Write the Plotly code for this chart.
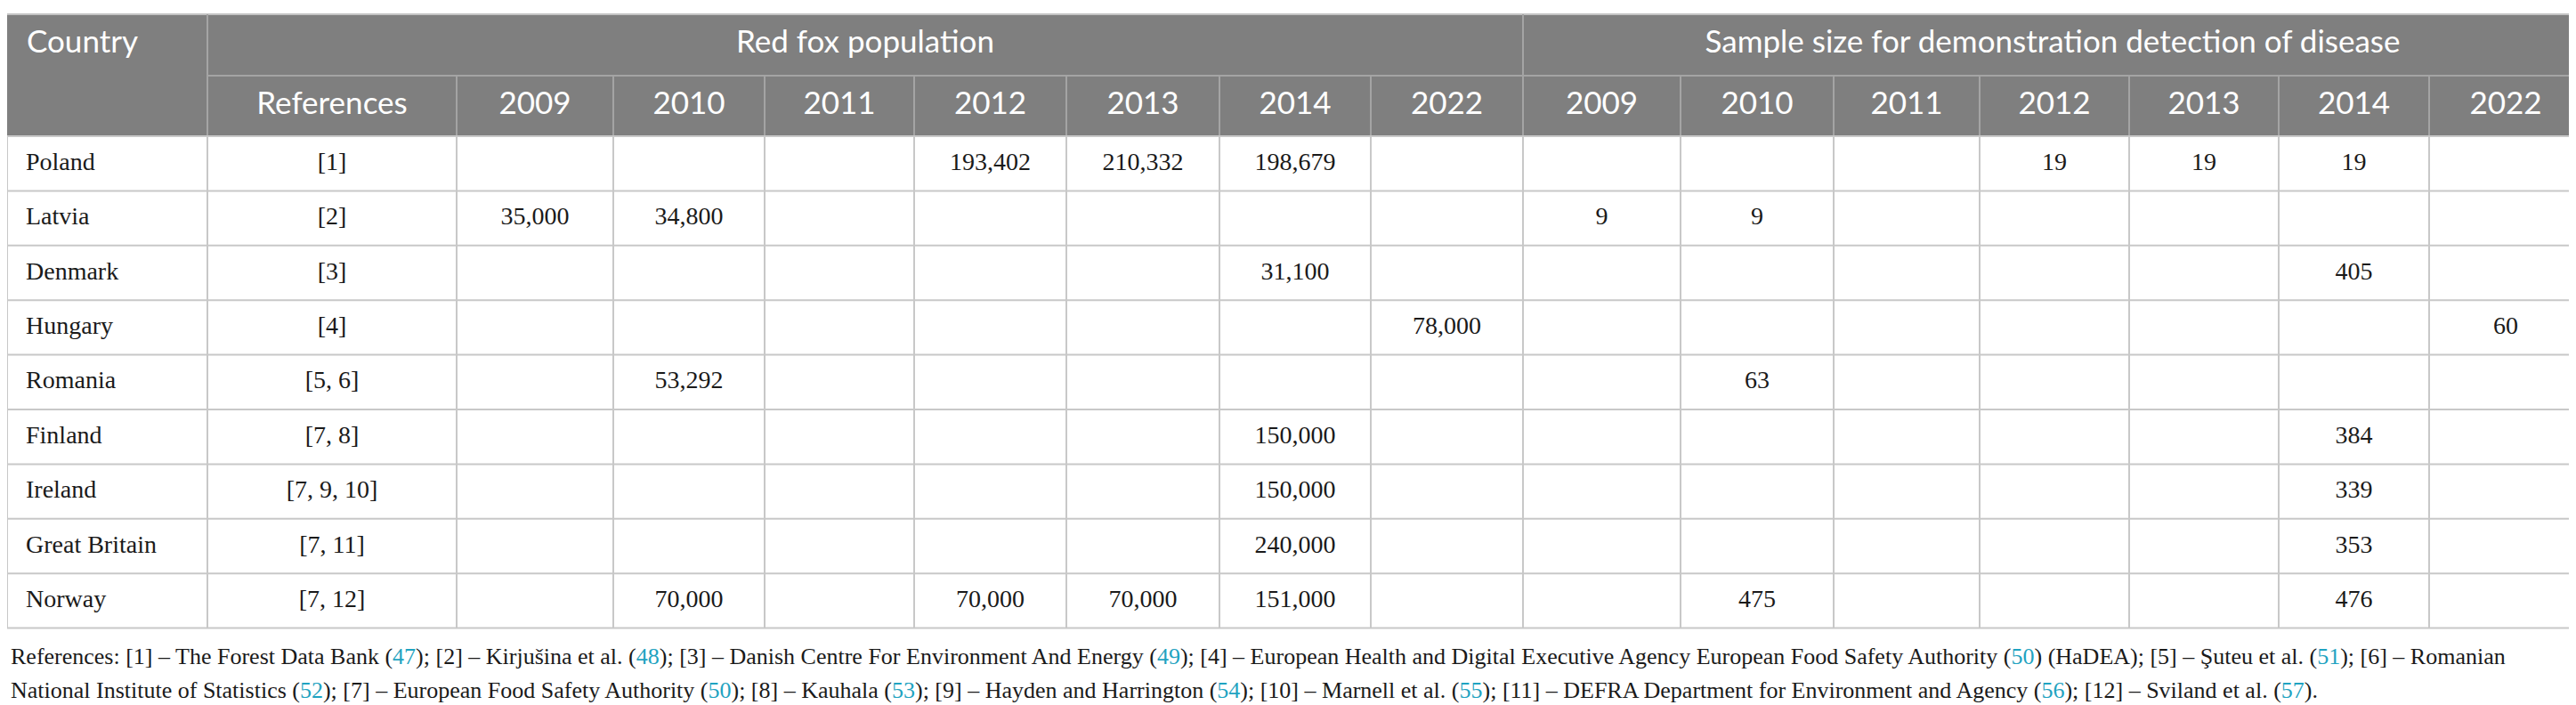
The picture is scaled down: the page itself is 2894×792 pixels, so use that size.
import re
import numpy as np
import plotly.graph_objects as go

# table content
countries = ["Poland", "Latvia", "Denmark", "Hungary", "Romania",
             "Finland", "Ireland", "Great Britain", "Norway"]
references = ["[1]", "[2]", "[3]", "[4]", "[5, 6]", "[7, 8]", "[7, 9, 10]", "[7, 11]", "[7, 12]"]
years = ["2009", "2010", "2011", "2012", "2013", "2014", "2022"]
group_titles = ["Red fox population", "Sample size for demonstration detection of disease"]

# red fox population, one row per country, one column per year
fox_population = [
    [None, None, None, 193402, 210332, 198679, None],
    [35000, 34800, None, None, None, None, None],
    [None, None, None, None, None, 31100, None],
    [None, None, None, None, None, None, 78000],
    [None, 53292, None, None, None, None, None],
    [None, None, None, None, None, 150000, None],
    [None, None, None, None, None, 150000, None],
    [None, None, None, None, None, 240000, None],
    [None, 70000, None, 70000, 70000, 151000, None],
]

# sample size for demonstration detection of disease
sample_size = [
    [None, None, None, 19, 19, 19, None],
    [9, 9, None, None, None, None, None],
    [None, None, None, None, None, 405, None],
    [None, None, None, None, None, None, 60],
    [None, 63, None, None, None, None, None],
    [None, None, None, None, None, 384, None],
    [None, None, None, None, None, 339, None],
    [None, None, None, None, None, 353, None],
    [None, 475, None, None, None, 476, None],
]

footnote = [
    "References: [1] – The Forest Data Bank (47); [2] – Kirjušina et al. (48); [3] – Danish Centre For Environment And Energy (49); "
    "[4] – European Health and Digital Executive Agency European Food Safety Authority (50) (HaDEA); [5] – Şuteu et al. (51); [6] – Romanian",
    "National Institute of Statistics (52); [7] – European Food Safety Authority (50); [8] – Kauhala (53); [9] – Hayden and Harrington (54); "
    "[10] – Marnell et al. (55); [11] – DEFRA Department for Environment and Agency (56); [12] – Sviland et al. (57).",
]

# geometry (pixels)
W, H = 2894, 792
col_widths = [225, 280, 176, 170, 168, 171, 172, 170, 171, 177, 172, 164, 168, 168, 169, 172]
xe = np.concatenate([[0], np.cumsum(col_widths)])
xc = (xe[:-1] + xe[1:]) / 2
top, h1, h2 = 8, 77, 145
row_h = 61.4
ye = h2 + row_h * np.arange(len(countries) + 1)
yc = (ye[:-1] + ye[1:]) / 2

HEAD_BG = "#7f7f7f"
HEAD_LINE = "#a4a4a4"
BODY_LINE = "#c8c8c8"
LINK = "#1fa3c1"
sans = "Lato"
serif = "Liberation Serif"

fig = go.Figure()

shapes = [dict(type="rect", x0=0, x1=xe[-1], y0=top, y1=h2, fillcolor=HEAD_BG, line_width=0, layer="below")]


def seg(x0, y0, x1, y1, color):
    shapes.append(dict(type="line", x0=x0, y0=y0, x1=x1, y1=y1, line=dict(color=color, width=2)))


seg(0, top, xe[-1], top, "#c4c4c4")
seg(xe[1], top, xe[1], h2, HEAD_LINE)
seg(xe[9], top, xe[9], h1, HEAD_LINE)
seg(xe[1], h1, xe[-1], h1, HEAD_LINE)
for x in xe[2:-1]:
    seg(x, h1, x, h2, HEAD_LINE)
for y in ye:
    seg(0, y, xe[-1], y, BODY_LINE)
for x in xe:
    seg(x, h2, x, ye[-1], BODY_LINE)

head_font = dict(family=sans, size=35, color="white")
body_font = dict(family=serif, size=28, color="#1a1a1a")

# header row 1
fig.add_trace(go.Scatter(x=[22], y=[(top + h1) / 2], text=["Country"], mode="text",
                         textposition="middle right", textfont=head_font))
fig.add_trace(go.Scatter(x=[(xe[1] + xe[9]) / 2, (xe[9] + xe[16]) / 2], y=[(top + h1) / 2] * 2,
                         text=group_titles, mode="text", textposition="middle center", textfont=head_font))
# header row 2
fig.add_trace(go.Scatter(x=list(xc[1:]), y=[(h1 + h2) / 2] * 15, text=["References"] + years + years,
                         mode="text", textposition="middle center", textfont=head_font))

# body
fig.add_trace(go.Scatter(x=[21] * len(countries), y=yc, text=countries, mode="text",
                         textposition="middle right", textfont=body_font))
fig.add_trace(go.Scatter(x=[xc[1]] * len(countries), y=yc, text=references, mode="text",
                         textposition="middle center", textfont=body_font))
for block, offset, fmt in [(fox_population, 2, "{:,}"), (sample_size, 9, "{}")]:
    bx, by, bt = [], [], []
    for i, row in enumerate(block):
        for j, v in enumerate(row):
            if v is not None:
                bx.append(xc[offset + j])
                by.append(yc[i])
                bt.append(fmt.format(v))
    fig.add_trace(go.Scatter(x=bx, y=by, text=bt, mode="text",
                             textposition="middle center", textfont=body_font))

# footnote with coloured citation numbers
for k, line in enumerate(footnote):
    txt = re.sub(r"\((\d+)\)", r'(<span style="color:%s">\1</span>)' % LINK, line)
    fig.add_annotation(x=2, y=729 + 38 * k, xref="x", yref="y", text=txt, showarrow=False,
                       xanchor="left", yanchor="middle",
                       font=dict(family=serif, size=26, color="#1a1a1a"))

fig.update_layout(
    width=W, height=H,
    margin=dict(l=0, r=0, t=0, b=0),
    paper_bgcolor="white", plot_bgcolor="white",
    showlegend=False, hovermode=False,
    shapes=shapes,
    xaxis=dict(range=[0, W], visible=False, fixedrange=True),
    yaxis=dict(range=[H, 0], visible=False, fixedrange=True),
)

fig.write_html("out.html")
